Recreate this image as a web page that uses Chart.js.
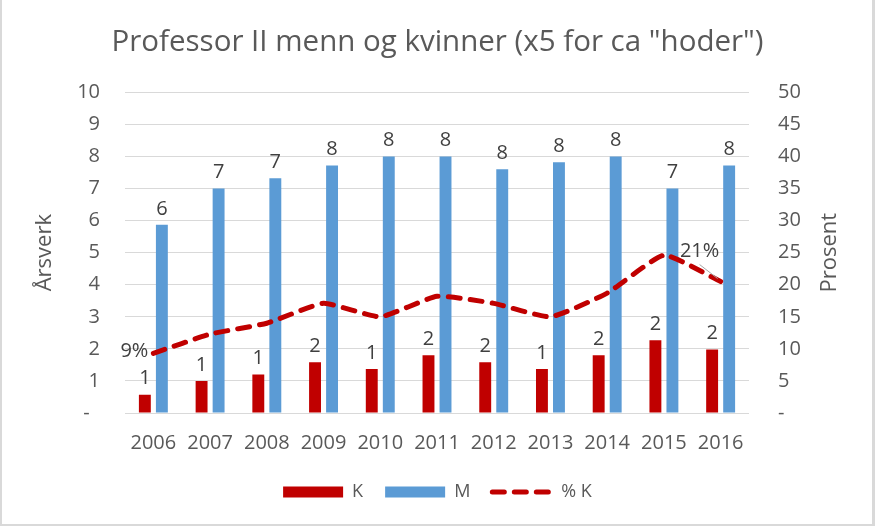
<!DOCTYPE html>
<html>
<head>
<meta charset="utf-8">
<script src="https://cdn.jsdelivr.net/npm/chart.js@4.4.0/dist/chart.umd.min.js"></script>
<style>
  html, body { margin: 0; padding: 0; background: #fff; }
</style>
</head>
<body>
<canvas id="chart" width="875" height="526"></canvas>
<script>
const years = ['2006', '2007', '2008', '2009', '2010', '2011', '2012', '2013', '2014', '2015', '2016'];
const kvinner = [0.57, 1.0, 1.2, 1.58, 1.37, 1.8, 1.58, 1.37, 1.8, 2.27, 1.98];
const menn = [5.87, 7.0, 7.32, 7.72, 8.0, 8.0, 7.6, 7.82, 8.0, 7.0, 7.72];
const prosentK = [9.3, 12.3, 14.0, 17.1, 15.0, 18.2, 17.1, 15.0, 18.7, 24.6, 20.5];
const lineLabelIdx = [0, 10];

const RED = '#C00000';
const BLUE = '#5B9BD5';
const GREY = '#595959';
const FONT = '"Open Sans", "Noto Sans", sans-serif';

Chart.defaults.font.family = FONT;
Chart.defaults.color = GREY;

// labels on bars, the two % labels, axis titles and the frame
const extras = {
  id: 'extras',
  afterDatasetsDraw(chart) {
    const ctx = chart.ctx;
    ctx.save();
    ctx.font = '20px ' + FONT;
    ctx.fillStyle = '#404040';
    ctx.textAlign = 'center';
    ctx.textBaseline = 'bottom';
    [0, 1].forEach(di => {
      chart.getDatasetMeta(di).data.forEach((bar, i) => {
        ctx.fillText(String(Math.round(chart.data.datasets[di].data[i])), bar.x, bar.y - 6);
      });
    });

    const pts = chart.getDatasetMeta(2).data;
    lineLabelIdx.forEach(i => {
      const p = pts[i];
      const txt = Math.round(prosentK[i]) + '%';
      ctx.textBaseline = 'middle';
      if (i === 0) {
        ctx.textAlign = 'right';
        ctx.fillText(txt, p.x - 5, p.y - 2);
      } else {
        ctx.strokeStyle = '#a6a6a6';
        ctx.lineWidth = 1;
        ctx.beginPath();
        ctx.moveTo(p.x - 21, p.y - 17);
        ctx.lineTo(p.x - 3, p.y - 3);
        ctx.stroke();
        ctx.textAlign = 'center';
        ctx.fillText(txt, p.x - 21, p.y - 30);
      }
    });
    ctx.restore();
  },
  afterDraw(chart) {
    const ctx = chart.ctx;
    const a = chart.chartArea;
    const mid = (a.top + a.bottom) / 2;
    ctx.save();
    ctx.font = '22px ' + FONT;
    ctx.fillStyle = GREY;
    ctx.textAlign = 'center';
    ctx.textBaseline = 'middle';
    ctx.translate(45, mid);
    ctx.rotate(-Math.PI / 2);
    ctx.fillText('Årsverk', 0, 0);
    ctx.restore();
    ctx.save();
    ctx.font = '22px ' + FONT;
    ctx.fillStyle = GREY;
    ctx.textAlign = 'center';
    ctx.textBaseline = 'middle';
    ctx.translate(830, mid);
    ctx.rotate(-Math.PI / 2);
    ctx.fillText('Prosent', 0, 0);
    ctx.restore();

    ctx.save();
    ctx.fillStyle = '#d9d9d9';
    ctx.fillRect(0, 0, 2, chart.height);
    ctx.fillRect(chart.width - 3, 0, 3, chart.height);
    ctx.fillRect(0, chart.height - 2, chart.width, 2);
    ctx.restore();
  }
};

new Chart(document.getElementById('chart').getContext('2d'), {
  type: 'bar',
  data: {
    labels: years,
    datasets: [
      {
        label: 'K',
        data: kvinner,
        backgroundColor: RED,
        yAxisID: 'y',
        order: 1,
        barPercentage: 0.7,
        categoryPercentage: 0.6
      },
      {
        label: 'M',
        data: menn,
        backgroundColor: BLUE,
        yAxisID: 'y',
        order: 1,
        barPercentage: 0.7,
        categoryPercentage: 0.6
      },
      {
        type: 'line',
        label: '% K',
        data: prosentK,
        borderColor: RED,
        backgroundColor: RED,
        borderWidth: 5,
        borderDash: [12, 10],
        borderCapStyle: 'round',
        borderJoinStyle: 'round',
        pointRadius: 0,
        tension: 0.15,
        yAxisID: 'y1',
        order: 0
      }
    ]
  },
  options: {
    responsive: false,
    animation: false,
    layout: { padding: { left: 0, right: 0, top: 0, bottom: 15 } },
    scales: {
      x: {
        grid: { display: false },
        border: { display: false },
        ticks: { font: { size: 20 }, color: GREY, padding: 10, maxRotation: 0 },
        afterFit: (s) => { s.height = 48; }
      },
      y: {
        position: 'left',
        min: 0,
        max: 10,
        grid: { color: '#d9d9d9', drawTicks: false },
        border: { display: false },
        ticks: {
          stepSize: 1,
          padding: 25,
          font: { size: 20 },
          color: GREY,
          callback: (v) => v === 0 ? '-  ' : v
        },
        afterFit: (s) => { s.width = 125; }
      },
      y1: {
        position: 'right',
        min: 0,
        max: 50,
        grid: { display: false, drawTicks: false },
        border: { display: false },
        ticks: {
          stepSize: 5,
          padding: 29,
          font: { size: 20 },
          color: GREY,
          callback: (v) => v === 0 ? '-' : v
        },
        afterFit: (s) => { s.width = 126; }
      }
    },
    plugins: {
      title: {
        display: true,
        text: 'Professor II menn og kvinner (x5 for ca "hoder")',
        color: GREY,
        font: { size: 29.5, weight: 'normal' },
        padding: { top: 25, bottom: 32 }
      },
      legend: {
        position: 'bottom',
        labels: {
          usePointStyle: true,
          pointStyleWidth: 60,
          boxHeight: 11,
          padding: 22,
          color: GREY,
          font: { size: 18 },
          sort: (a, b) => a.datasetIndex - b.datasetIndex,
          generateLabels(chart) {
            const items = Chart.defaults.plugins.legend.labels.generateLabels(chart);
            items.forEach(it => {
              if (it.datasetIndex === 2) {
                it.pointStyle = 'line';
                it.lineWidth = 5;
                it.lineDash = [12, 10];
                it.lineCap = 'round';
                it.strokeStyle = RED;
              } else {
                it.pointStyle = 'rect';
                it.lineWidth = 0;
              }
            });
            return items;
          }
        }
      },
      tooltip: { enabled: false }
    }
  },
  plugins: [extras]
});
</script>
</body>
</html>
